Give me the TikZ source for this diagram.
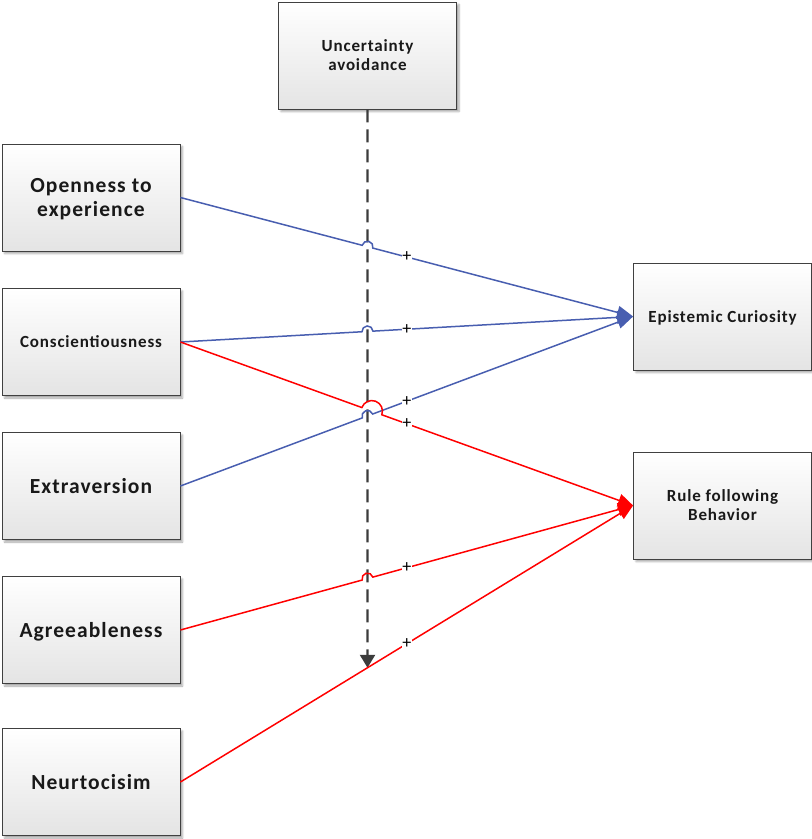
\documentclass[tikz,border=0pt]{standalone}
\usepackage{fontspec}
\setmainfont{Carlito}
\newfontfamily\boxfont[LetterSpace=5]{Carlito}
\usetikzlibrary{arrows.meta,calc,shadows.blur}

\definecolor{pathblue}{RGB}{72,94,176}
\definecolor{boxedge}{RGB}{64,64,64}
\definecolor{dashgrey}{RGB}{60,60,60}
\definecolor{boxlow}{RGB}{228,228,228}

\tikzset{
  factor/.style={draw=boxedge, line width=0.8pt, top color=white, bottom color=boxlow,
    minimum width=178pt, minimum height=107pt, align=center, inner sep=2pt,
    text depth=0pt, text=black!90,
    blur shadow={shadow xshift=2.5pt, shadow yshift=-2.5pt, shadow blur steps=4, shadow opacity=35}},
  bigtext/.style={font=\boxfont\fontsize{21.5}{24}\selectfont\bfseries},
  smalltext/.style={font=\boxfont\fontsize{17}{19}\selectfont\bfseries},
  bluepath/.style={draw=pathblue, line width=1.5pt, -{Triangle[length=16pt,width=13pt]}},
  redpath/.style={draw=red, line width=1.5pt, -{Triangle[length=15pt,width=13pt]}},
  moderation/.style={draw=dashgrey, line width=2.4pt, dash pattern=on 13pt off 7pt,
    -{Triangle[length=13pt,width=15pt]}},
  signlabel/.style={fill=white, inner sep=0.6pt, font=\fontsize{18}{18}\selectfont}
}

\begin{document}
\begin{tikzpicture}[x=1pt,y=1pt]
\useasboundingbox (0,0) rectangle (812,-839);

% moderator
\node[factor, smalltext] (ua) at (367.5,-55.5) {Uncertainty\\avoidance};

% personality traits
\node[factor, bigtext]   (op) at (91,-197.5) {Openness to\\experience};
\node[factor, smalltext] (co) at (91,-342)   {Conscientiousness};
\node[factor, bigtext]   (ex) at (91,-486)   {Extraversion};
\node[factor, bigtext]   (ag) at (91,-630)   {Agreeableness};
\node[factor, bigtext]   (ne) at (91,-782)   {Neurtocisim};

% outcomes
\node[factor, smalltext] (ec) at (722.5,-316.5) {Epistemic Curiosity};
\node[factor, smalltext] (rf) at (722.5,-505.5) {Rule following\\Behavior};

% crossing points with the moderator line
\coordinate (vbot) at (ua.south |- ne.south);
\coordinate (dashend) at (intersection of ne.east--rf.west and ua.south--vbot);
\coordinate (xop) at (intersection of op.east--ec.west and ua.south--vbot);
\coordinate (xcob) at (intersection of co.east--ec.west and ua.south--vbot);
\coordinate (xex) at (intersection of ex.east--ec.west and ua.south--vbot);
\coordinate (xcor) at (intersection of co.east--rf.west and ua.south--vbot);
\coordinate (xcoex) at (intersection of co.east--rf.west and ex.east--ec.west);
\coordinate (xag) at (intersection of ag.east--rf.west and ua.south--vbot);

% moderating effect
\draw[moderation] (ua.south) -- (dashend);

% paths to epistemic curiosity, hopping over the moderator line
\draw[bluepath] let \p1=($(ec.west)-(op.east)$), \n1={atan2(\y1,\x1)} in
  (op.east) -- ($(xop)!5.5pt!(op.east)$) arc[start angle=\n1+180, end angle=\n1, radius=5.5] -- (ec.west);
\draw[bluepath] let \p1=($(ec.west)-(co.east)$), \n1={atan2(\y1,\x1)} in
  (co.east) -- ($(xcob)!5.5pt!(co.east)$) arc[start angle=\n1+180, end angle=\n1, radius=5.5] -- (ec.west);
\draw[bluepath] let \p1=($(ec.west)-(ex.east)$), \n1={atan2(\y1,\x1)} in
  (ex.east) -- ($(xex)!5.5pt!(ex.east)$) arc[start angle=\n1+180, end angle=\n1, radius=5.5] -- (ec.west);

% paths to rule following behavior
\coordinate (rh1) at ($(xcor)!6pt!(co.east)$);
\coordinate (rh2) at ($(xcoex)!6pt!(rf.west)$);
\draw[redpath] let \p1=($(rf.west)-(co.east)$), \n1={atan2(\y1,\x1)},
                   \p2=($(rh2)-(rh1)$), \n2={veclen(\x2,\y2)/2} in
  (co.east) -- (rh1) arc[start angle=\n1+180, end angle=\n1, radius=\n2] -- (rf.west);
\draw[redpath] let \p1=($(rf.west)-(ag.east)$), \n1={atan2(\y1,\x1)} in
  (ag.east) -- ($(xag)!5.5pt!(ag.east)$) arc[start angle=\n1+180, end angle=\n1, radius=5.5] -- (rf.west);
\draw[redpath] (ne.east) -- (rf.west);

% signs of the effects
\path (op.east) -- node[signlabel] {+} (ec.west);
\path (co.east) -- node[signlabel] {+} (ec.west);
\path (ex.east) -- node[signlabel] {+} (ec.west);
\path (co.east) -- node[signlabel] {+} (rf.west);
\path (ag.east) -- node[signlabel] {+} (rf.west);
\path (ne.east) -- node[signlabel] {+} (rf.west);
\end{tikzpicture}
\end{document}
